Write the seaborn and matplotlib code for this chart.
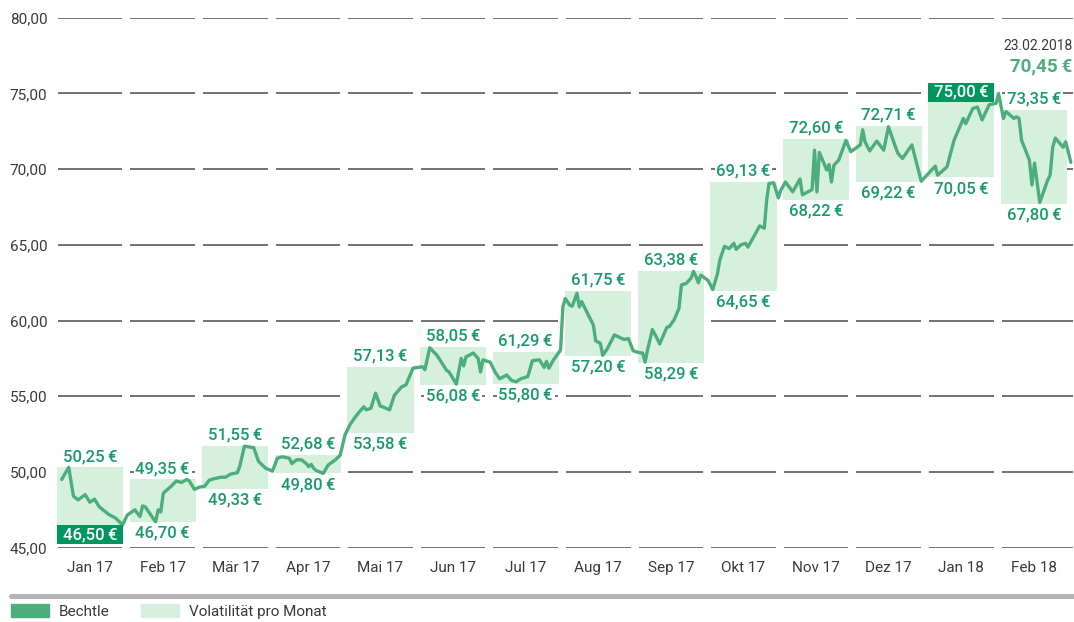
import numpy as np
import pandas as pd
import matplotlib
matplotlib.use("Agg")
import matplotlib.pyplot as plt
import seaborn as sns
from matplotlib.patches import Patch, Rectangle
from matplotlib.lines import Line2D

# ---------------------------------------------------------------
# data
# ---------------------------------------------------------------
monate = ["Jan 17", "Feb 17", "Mär 17", "Apr 17", "Mai 17", "Jun 17", "Jul 17",
          "Aug 17", "Sep 17", "Okt 17", "Nov 17", "Dez 17", "Jan 18", "Feb 18"]

# extent of the monthly volatility boxes as drawn
box_hoch = [50.3, 49.5, 51.7, 51.1, 56.95, 58.25, 57.95, 61.95, 63.3, 69.15, 72.0, 72.85, 74.45, 73.9]
box_tief = [46.5, 46.7, 48.85, 49.9, 52.55, 55.75, 55.8, 57.65, 57.2, 61.95, 67.95, 69.15, 69.45, 67.7]

# printed monthly high / low labels
label_hoch = ["50,25", "49,35", "51,55", "52,68", "57,13", "58,05", "61,29",
              "61,75", "63,38", "69,13", "72,60", "72,71", "75,00", "73,35"]
label_tief = ["46,50", "46,70", "49,33", "49,80", "53,58", "56,08", "55,80",
              "57,20", "58,29", "64,65", "68,22", "69,22", "70,05", "67,80"]

kurs_datum = [
    "2017-01-03", "2017-01-06", "2017-01-08", "2017-01-10", "2017-01-13", "2017-01-15",
    "2017-01-17", "2017-01-19", "2017-01-21", "2017-01-23", "2017-01-26", "2017-01-29",
    "2017-01-31", "2017-02-03", "2017-02-05", "2017-02-06", "2017-02-07", "2017-02-11",
    "2017-02-12", "2017-02-13", "2017-02-14", "2017-02-17", "2017-02-19", "2017-02-21",
    "2017-02-23", "2017-02-24", "2017-02-26", "2017-02-28", "2017-03-02", "2017-03-04",
    "2017-03-06", "2017-03-09", "2017-03-11", "2017-03-13", "2017-03-16", "2017-03-17",
    "2017-03-19", "2017-03-23", "2017-03-25", "2017-03-28", "2017-03-31", "2017-04-02",
    "2017-04-04", "2017-04-07", "2017-04-08", "2017-04-10", "2017-04-12", "2017-04-14",
    "2017-04-15", "2017-04-16", "2017-04-17", "2017-04-18", "2017-04-21", "2017-04-23",
    "2017-04-26", "2017-04-28", "2017-04-30", "2017-05-02", "2017-05-04", "2017-05-06",
    "2017-05-08", "2017-05-09", "2017-05-11", "2017-05-13", "2017-05-15", "2017-05-16",
    "2017-05-19", "2017-05-21", "2017-05-24", "2017-05-26", "2017-05-29", "2017-05-31",
    "2017-06-02", "2017-06-03", "2017-06-05", "2017-06-08", "2017-06-12", "2017-06-13",
    "2017-06-16", "2017-06-18", "2017-06-19", "2017-06-20", "2017-06-23", "2017-06-25",
    "2017-06-26", "2017-06-27", "2017-06-30", "2017-07-02", "2017-07-04", "2017-07-07",
    "2017-07-09", "2017-07-11", "2017-07-13", "2017-07-16", "2017-07-18", "2017-07-21",
    "2017-07-23", "2017-07-24", "2017-07-25", "2017-07-27", "2017-07-30", "2017-07-31",
    "2017-08-01", "2017-08-03", "2017-08-04", "2017-08-06", "2017-08-07", "2017-08-08",
    "2017-08-13", "2017-08-14", "2017-08-16", "2017-08-17", "2017-08-19", "2017-08-22",
    "2017-08-26", "2017-08-28", "2017-08-30", "2017-09-01", "2017-09-03", "2017-09-04",
    "2017-09-05", "2017-09-07", "2017-09-09", "2017-09-10", "2017-09-13", "2017-09-14",
    "2017-09-16", "2017-09-18", "2017-09-19", "2017-09-21", "2017-09-23", "2017-09-24",
    "2017-09-25", "2017-09-26", "2017-09-27", "2017-09-30", "2017-10-02", "2017-10-04",
    "2017-10-05", "2017-10-07", "2017-10-09", "2017-10-11", "2017-10-12", "2017-10-14",
    "2017-10-16", "2017-10-17", "2017-10-19", "2017-10-22", "2017-10-24", "2017-10-25",
    "2017-10-26", "2017-10-28", "2017-10-30", "2017-10-31", "2017-11-02", "2017-11-05",
    "2017-11-08", "2017-11-09", "2017-11-13", "2017-11-14", "2017-11-15", "2017-11-16",
    "2017-11-19", "2017-11-20", "2017-11-21", "2017-11-22", "2017-11-24", "2017-11-27",
    "2017-11-29", "2017-12-03", "2017-12-04", "2017-12-05", "2017-12-07", "2017-12-10",
    "2017-12-13", "2017-12-15", "2017-12-17", "2017-12-19", "2017-12-21", "2017-12-25",
    "2017-12-29", "2018-01-04", "2018-01-05", "2018-01-09", "2018-01-12", "2018-01-16",
    "2018-01-17", "2018-01-20", "2018-01-22", "2018-01-24", "2018-01-27", "2018-01-30",
    "2018-01-31", "2018-02-02", "2018-02-03", "2018-02-06", "2018-02-07", "2018-02-08",
    "2018-02-09", "2018-02-12", "2018-02-13", "2018-02-14", "2018-02-16", "2018-02-19",
    "2018-02-20", "2018-02-21", "2018-02-22", "2018-02-25", "2018-02-26", "2018-02-28",
]
kurs_wert = [
    49.5, 50.3, 48.4, 48.15, 48.5, 48.0,
    48.2, 47.7, 47.45, 47.2, 46.95, 46.5,
    47.15, 47.5, 47.05, 47.75, 47.7, 46.7,
    47.5, 47.35, 48.6, 49.05, 49.4, 49.3,
    49.5, 49.4, 48.85, 49.0, 49.05, 49.45,
    49.55, 49.65, 49.65, 49.85, 49.95, 50.35,
    51.7, 51.6, 50.7, 50.25, 50.05, 50.9,
    51.0, 50.9, 50.55, 50.8, 50.8, 50.55,
    50.35, 50.5, 50.25, 50.1, 49.9, 50.45,
    50.8, 51.1, 52.45, 53.1, 53.55, 53.95,
    54.3, 54.1, 54.2, 55.2, 54.35, 54.3,
    54.1, 55.05, 55.6, 55.75, 56.85, 56.9,
    56.95, 56.75, 58.2, 57.7, 56.7, 56.6,
    55.8, 57.5, 57.0, 57.6, 57.85, 57.5,
    56.6, 57.4, 57.25, 56.6, 56.15, 56.4,
    56.05, 55.95, 56.15, 56.3, 57.35, 57.4,
    56.9, 57.3, 56.85, 57.4, 58.05, 60.9,
    61.45, 61.0, 60.95, 61.8, 60.9, 61.25,
    59.7, 58.65, 58.5, 57.7, 58.15, 59.05,
    58.75, 58.8, 58.0, 57.9, 57.85, 57.25,
    58.05, 59.4, 58.8, 58.45, 59.55, 59.6,
    60.05, 60.8, 62.35, 62.45, 62.8, 63.25,
    62.9, 62.5, 63.0, 62.65, 62.05, 63.1,
    64.0, 64.9, 64.75, 65.1, 64.7, 65.0,
    65.1, 64.85, 65.4, 66.25, 66.1, 67.95,
    69.05, 69.1, 68.1, 68.6, 69.15, 68.5,
    69.35, 68.3, 68.65, 71.25, 68.5, 71.1,
    69.95, 70.3, 69.15, 70.25, 70.6, 71.9,
    71.15, 71.6, 72.6, 71.8, 71.2, 71.85,
    71.25, 72.8, 71.9, 71.05, 70.7, 71.6,
    69.2, 70.2, 69.6, 70.15, 71.9, 73.35,
    73.0, 74.0, 74.1, 73.25, 74.25, 74.35,
    75.0, 73.35, 73.8, 73.35, 73.45, 73.35,
    71.9, 70.6, 68.95, 70.4, 67.8, 69.25,
    69.6, 71.45, 72.05, 71.45, 71.8, 70.45,
]

y_ticks = [45, 50, 55, 60, 65, 70, 75, 80]
y_labels = ["45,00", "50,00", "55,00", "60,00", "65,00", "70,00", "75,00", "80,00"]

stichtag = "23.02.2018"
schlusskurs = "70,45"
legende = ["Bechtle", "Volatilität pro Monat"]

# ---------------------------------------------------------------
# styling
# ---------------------------------------------------------------
LINE_GREEN = "#4dae7b"
BOX_GREEN = "#d6f0de"
TEXT_GREEN = "#179b69"
DARK_GREEN = "#009660"
GREY_TEXT = "#3a3a3a"
GRID = "#4a4a4a"
EUR = "\u2009€"
KNOCKOUT = dict(facecolor="white", edgecolor="none", pad=1.2)

sns.set_style("white")
plt.rcParams["font.family"] = ["Roboto", "DejaVu Sans"]

fig = plt.figure(figsize=(10.74, 6.22), dpi=100)
ax = fig.add_axes([0.0531, 0.1196, 0.9464, 0.8519])

n = len(monate)
box_w = 0.91
idx = np.arange(n)

# dashed-looking grid: one segment per month
starts = idx + 0.01
ends = idx + 0.9
ends[-1] = n
for y in y_ticks:
    ax.hlines(np.full(n, y), starts, ends, color=GRID, lw=1.1, zorder=0)

# monthly volatility boxes
ax.bar(idx, np.array(box_hoch) - np.array(box_tief), bottom=box_tief, width=box_w,
       align="edge", color=BOX_GREEN, zorder=1, linewidth=0)

# price line
d = pd.to_datetime(kurs_datum)
pos = (d.year - 2017) * 12 + (d.month - 1) + (d.day - 1) / d.days_in_month
df = pd.DataFrame({"pos": np.asarray(pos, dtype=float), "kurs": kurs_wert})
sns.lineplot(data=df, x="pos", y="kurs", ax=ax, color=LINE_GREEN, lw=2.4,
             estimator=None, zorder=3)

# high / low labels
i_min = int(np.argmin(box_tief))
i_max = int(np.argmax(box_hoch))
for i in range(n):
    xc = i + box_w / 2
    if i == i_max:
        ax.add_patch(Rectangle((i, box_hoch[i]), box_w, 1.27, color=DARK_GREEN, zorder=4, lw=0))
        ax.text(xc, box_hoch[i] + 0.62, label_hoch[i] + EUR, ha="center", va="center",
                color="white", fontsize=12, fontweight="medium", zorder=5)
    else:
        ax.annotate(label_hoch[i] + EUR, xy=(xc, box_hoch[i]), xytext=(0, 2.5),
                    textcoords="offset points", ha="center", va="bottom",
                    color=TEXT_GREEN, fontsize=12, fontweight="medium", zorder=2,
                    bbox=KNOCKOUT)
    if i == i_min:
        ax.add_patch(Rectangle((i, box_tief[i] - 1.27), box_w, 1.27, color=DARK_GREEN, zorder=4, lw=0))
        ax.text(xc, box_tief[i] - 0.64, label_tief[i] + EUR, ha="center", va="center",
                color="white", fontsize=12, fontweight="medium", zorder=5)
    else:
        ax.annotate(label_tief[i] + EUR, xy=(xc, box_tief[i]), xytext=(0, -2.5),
                    textcoords="offset points", ha="center", va="top",
                    color=TEXT_GREEN, fontsize=12, fontweight="medium", zorder=2,
                    bbox=KNOCKOUT)

# closing value at top right
ax.text(n - 0.01, 78.1, stichtag, ha="right", va="center", color=GREY_TEXT, fontsize=10)
ax.text(n - 0.01, 76.75, schlusskurs + EUR, ha="right", va="center", color=LINE_GREEN,
        fontsize=13.5, fontweight="bold")

# axes
ax.set_xlim(0, n)
ax.set_ylim(45, 80)
ax.set_yticks(y_ticks)
ax.set_yticklabels(y_labels)
ax.set_xticks(idx + box_w / 2)
ax.set_xticklabels(monate)
ax.tick_params(axis="y", length=0, pad=7, labelsize=11, labelcolor=GREY_TEXT)
ax.tick_params(axis="x", length=0, pad=10, labelsize=11, labelcolor=GREY_TEXT)
ax.set_xlabel("")
ax.set_ylabel("")
sns.despine(ax=ax, left=True, bottom=True)

# separator and legend (kept just inside the bottom edge)
fig.add_artist(Line2D([0.0102, 1.0], [0.041, 0.041], transform=fig.transFigure,
                      color="#b5b5b5", lw=3.6))
handles = [Patch(color=LINE_GREEN), Patch(color=BOX_GREEN)]
leg = fig.legend(handles, legende, loc="center left", bbox_to_anchor=(0.0102, 0.0175),
                 ncol=2, frameon=False, fontsize=11, handlelength=2.5, handleheight=1.0,
                 handletextpad=0.6, columnspacing=2.1, borderpad=0, borderaxespad=0)
for t in leg.get_texts():
    t.set_color(GREY_TEXT)

fig.savefig("out.png", dpi=100)
